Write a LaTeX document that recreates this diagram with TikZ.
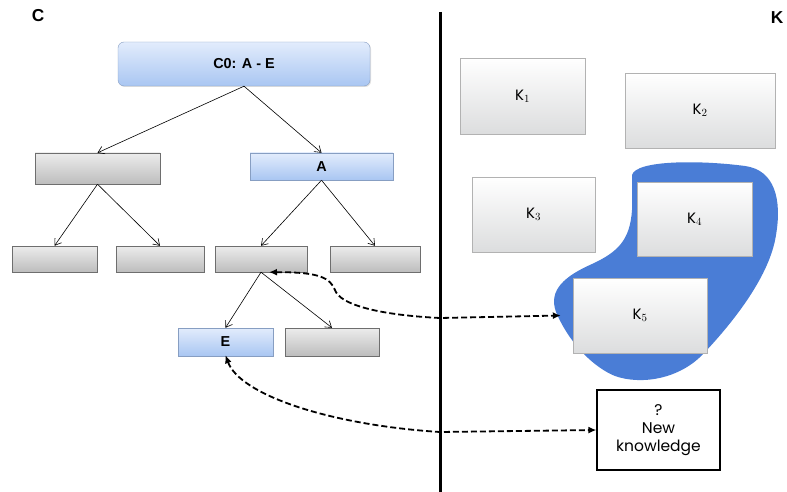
\documentclass[tikz,border=0pt]{standalone}
\usepackage{fontspec}
\setmainfont{Poppins}
\newfontfamily\labelfont{Liberation Sans}
\usetikzlibrary{arrows.meta, positioning, shadows}
\definecolor{boxblue}{HTML}{A9C6F2}
\definecolor{boxbluetop}{HTML}{E2ECFC}
\definecolor{boxgray}{HTML}{BDBDBD}
\definecolor{boxgraytop}{HTML}{ECECEC}
\definecolor{edgegray}{HTML}{6E6E6E}
\definecolor{kgray}{HTML}{DCDDDE}
\definecolor{blobblue}{HTML}{4A7DD6}

\begin{document}
\begin{tikzpicture}[
  x=1pt, y=-1pt,
  tree/.style     = {rectangle, draw=edgegray, inner sep=0pt,
                     top color=boxgraytop, bottom color=boxgray,
                     drop shadow={shadow xshift=1pt, shadow yshift=-1pt, opacity=0.25}},
  treeblue/.style = {tree, draw=boxblue!80!black, top color=boxbluetop, bottom color=boxblue,
                     font=\labelfont\bfseries\Large},
  kbox/.style     = {rectangle, draw=gray!60, inner sep=0pt,
                     top color=white, bottom color=kgray, font=\fontsize{15}{18}\selectfont,
                     drop shadow={shadow xshift=1pt, shadow yshift=-1pt, opacity=0.3}},
  arrow/.style    = {-{Straight Barb[length=6pt, width=8pt]}, semithick},
  link/.style     = {{Latex[length=8pt, width=7pt]}-{Latex[length=8pt, width=7pt]},
                     line width=1.8pt, dash pattern=on 6pt off 3pt},
]
\useasboundingbox (0,0) rectangle (787,492);

% Headings
\node[font=\labelfont\bfseries\LARGE] (hc) at (38,16) {C};
\node[font=\labelfont\bfseries\LARGE] (hk) at (777,18) {K};

% Separator
\coordinate (septop) at (440,12);
\coordinate (sepbot) at (440,492);
\draw[line width=3pt] (septop) -- (sepbot);

% Blob
\fill[blobblue] (632,175) .. controls (636,160) and (700,160) .. (745,166)
  .. controls (775,170) and (782,200) .. (776,235)
  .. controls (770,275) and (735,320) .. (705,352)
  .. controls (680,380) and (640,385) .. (615,376)
  .. controls (595,368) and (570,345) .. (556,312)
  .. controls (548,290) and (565,276) .. (592,264)
  .. controls (618,252) and (630,240) .. (632,210)
  -- cycle;

% Tree nodes
\node[treeblue, rounded corners=6pt, minimum width=252pt, minimum height=44pt]
      (root) at (244,64) {C0: A - E};
\node[tree,     minimum width=125pt, minimum height=31pt] (left)  at (97.5,168.5) {};
\node[treeblue, minimum width=143pt, minimum height=27pt] (a)     at (321.5,166.5) {A};
\node[tree,     minimum width=85pt,  minimum height=26pt] (ll)    at (54.5,259) {};
\node[tree,     minimum width=88pt,  minimum height=26pt] (lr)    at (160,259) {};
\node[tree,     minimum width=92pt,  minimum height=26pt] (al)    at (261,259) {};
\node[tree,     minimum width=90pt,  minimum height=26pt] (ar)    at (375,259) {};
\node[treeblue, minimum width=95pt,  minimum height=28pt] (e)     at (225.5,342) {E};
\node[tree,     minimum width=94pt,  minimum height=28pt] (alr)   at (332,342) {};

% Knowledge nodes
\node[kbox, minimum width=125pt, minimum height=76pt] (k1) at (522.5,96)    {K$_1$};
\node[kbox, minimum width=150pt, minimum height=75pt] (k2) at (700,110.5)   {K$_2$};
\node[kbox, minimum width=123pt, minimum height=75pt] (k3) at (533.5,214.5) {K$_3$};
\node[kbox, minimum width=115pt, minimum height=74pt] (k4) at (694.5,219)   {K$_4$};
\node[kbox, minimum width=134pt, minimum height=75pt] (k5) at (640,315.5)   {K$_5$};
\node[draw, line width=1.2pt, fill=white, minimum width=123pt, minimum height=80pt,
      align=center, inner sep=0pt, font=\fontsize{15.5}{18}\selectfont] (new) at (658.5,430)
      {?\\New\\knowledge};

% Arrows
\draw[arrow] (root.south) -- (left.north);
\draw[arrow] (root.south) -- (a.north);
\draw[arrow] (left.south) -- (ll.north);
\draw[arrow] (left.south) -- (lr.north);
\draw[arrow] (a.south)    -- (al.north);
\draw[arrow] (a.south)    -- (ar.north);
\draw[arrow] (al.south)   -- (e.north);
\draw[arrow] (al.south)   -- (alr.north);

% Dashed links
\draw[link] ([xshift=8pt]al.south)
  .. controls (320,272) and (330,278) .. (335,290)
  .. controls (340,305) and (380,315) .. (440,318)
  -- ([xshift=-12pt]k5.west);
\draw[link] ([yshift=1pt]e.south)
  .. controls (240,395) and (330,425) .. (440,432)
  -- (new.west);
\end{tikzpicture}
\end{document}
